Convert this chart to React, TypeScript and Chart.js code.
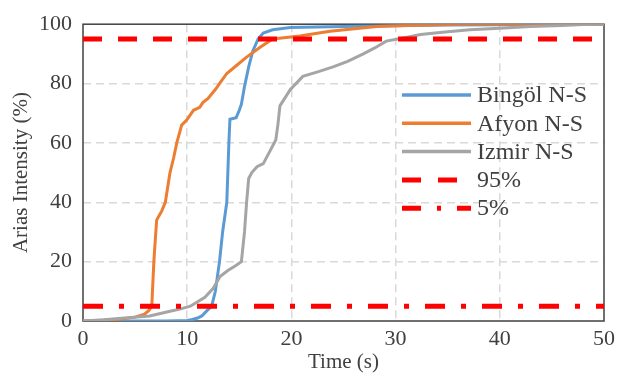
import React, { useEffect, useRef } from "react";
import { Chart, registerables } from "chart.js";

Chart.register(...registerables);

const xTicks = [0, 10, 20, 30, 40, 50];
const yTicks = [0, 20, 40, 60, 80, 100];

const bingolT = [0, 8, 10, 10.5, 11, 11.4, 11.9, 12.35, 12.7, 13.1, 13.4, 13.8, 14.0, 14.1, 14.7, 15.0, 15.2, 15.5, 15.9, 16.3, 16.8, 17.3, 18.2, 19.9, 26.3, 35, 50];
const bingolV = [0, 0, 0.2, 0.5, 1, 1.7, 3.5, 5, 10, 20, 30, 40, 60, 68, 68.5, 71, 73, 79, 85.6, 91, 95, 97, 98.1, 98.9, 99.3, 99.7, 100];

const afyonT = [0, 1.5, 3, 4, 5, 5.9, 6.3, 6.6, 6.8, 6.95, 7.07, 7.3, 7.55, 7.9, 8.35, 8.7, 9.0, 9.47, 9.95, 10.6, 11.2, 11.5, 12.0, 12.7, 13.2, 13.8, 14.7, 15.7, 17.0, 18.2, 20.8, 23.7, 28.2, 31, 36.5, 50];
const afyonV = [0, 0.2, 0.5, 0.8, 1.3, 2.3, 3.5, 5, 20, 28, 34, 35.5, 37, 40, 50, 55, 60, 66, 67.7, 71, 72, 73.6, 75, 78, 80.5, 83.4, 86, 88.9, 92.2, 95, 96, 97.6, 99.2, 99.6, 100, 100];

const izmirT = [0, 2, 4, 6.4, 8.35, 9.3, 10.3, 11, 11.7, 12.5, 13.15, 13.9, 14.6, 15.2, 15.5, 15.7, 15.9, 16.2, 16.7, 17.3, 17.9, 18.5, 18.7, 18.9, 19.9, 21.1, 22.6, 24, 25.4, 26.9, 28, 29.1, 31, 32.4, 34.5, 37.1, 40, 42.9, 46, 48, 50];
const izmirV = [0, 0.4, 1, 1.7, 3.3, 4, 5, 6.5, 8, 11, 15, 17, 18.5, 20, 30, 40, 48, 50, 52, 53, 57, 61, 66, 72.5, 78, 82.4, 84, 85.6, 87.5, 90, 92, 94.3, 95.5, 96.5, 97.3, 98.1, 98.6, 99.2, 99.6, 99.9, 100];

const level95 = [95, 95];
const level5 = [5, 5];
const levelT = [0, 50];

const legendLabels = ["Bingöl N-S", "Afyon N-S", "Izmir N-S", "95%", "5%"];

const BLUE = "#5B9BD5";
const ORANGE = "#ED7D31";
const GRAY = "#A5A5A5";
const RED = "#FF0000";
const TEXT = "#404040";
const FONT = "'Liberation Serif', 'Times New Roman', serif";

const pts = (t: number[], v: number[]) => t.map((x, i) => ({ x, y: v[i] }));

const framePlugin = {
  id: "frame",
  beforeDatasetsDraw(chart: any) {
    const { ctx, chartArea: a } = chart;
    ctx.save();
    ctx.strokeStyle = "#404040";
    ctx.lineWidth = 1.5;
    ctx.strokeRect(a.left, a.top, a.right - a.left, a.bottom - a.top);
    ctx.restore();
  },
};

const legendPlugin = {
  id: "insideLegend",
  afterDraw(chart: any) {
    const { ctx } = chart;
    const styles = [
      { color: BLUE, width: 3.5, dash: [] as number[] },
      { color: ORANGE, width: 3.5, dash: [] as number[] },
      { color: GRAY, width: 3.5, dash: [] as number[] },
      { color: RED, width: 5, dash: [19, 17] },
      { color: RED, width: 5, dash: [19, 16, 4, 16] },
    ];
    const x0 = 402;
    const x1 = 471;
    const tx = 477;
    const y0 = 95;
    const dy = 28.3;
    ctx.save();
    legendLabels.forEach((label, i) => {
      const y = y0 + i * dy;
      const s = styles[i];
      ctx.beginPath();
      ctx.setLineDash(s.dash);
      ctx.lineCap = "butt";
      ctx.strokeStyle = s.color;
      ctx.lineWidth = s.width;
      ctx.moveTo(x0, y);
      ctx.lineTo(x1, y);
      ctx.stroke();
      ctx.setLineDash([]);
      ctx.fillStyle = TEXT;
      ctx.font = `24px ${FONT}`;
      ctx.textBaseline = "middle";
      ctx.textAlign = "left";
      ctx.fillText(label, tx, y + 1);
    });
    ctx.restore();
  },
};

export default function App() {
  const ref = useRef<HTMLCanvasElement | null>(null);
  useEffect(() => {
    if (!ref.current) return;
    const gridColor = (c: any) => {
      const v = c.tick ? c.tick.value : 0;
      return v === 0 || v === 50 || v === 100 ? "rgba(0,0,0,0)" : "#D9D9D9";
    };
    const chart = new Chart(ref.current, {
      type: "line",
      data: {
        datasets: [
          { label: "Bingöl N-S", data: pts(bingolT, bingolV), borderColor: BLUE, borderWidth: 3, pointRadius: 0, tension: 0, order: 4 },
          { label: "Afyon N-S", data: pts(afyonT, afyonV), borderColor: ORANGE, borderWidth: 3, pointRadius: 0, tension: 0, order: 3 },
          { label: "Izmir N-S", data: pts(izmirT, izmirV), borderColor: GRAY, borderWidth: 3, pointRadius: 0, tension: 0, order: 2 },
          { label: "95%", data: pts(levelT, level95), borderColor: RED, borderWidth: 5, borderDash: [19, 16], borderCapStyle: "butt", pointRadius: 0, order: 1 },
          { label: "5%", data: pts(levelT, level5), borderColor: RED, borderWidth: 5, borderDash: [20, 16, 5, 16], borderCapStyle: "butt", pointRadius: 0, order: 0 },
        ],
      },
      options: {
        responsive: false,
        animation: false,
        devicePixelRatio: 1,
        layout: { padding: { top: 17, right: 19, left: 0, bottom: 0 } },
        plugins: { legend: { display: false }, tooltip: { enabled: false } },
        scales: {
          x: {
            type: "linear",
            min: 0,
            max: 50,
            afterBuildTicks: (s: any) => { s.ticks = xTicks.map((v) => ({ value: v })); },
            afterFit: (s: any) => { s.height = 55; },
            ticks: { color: TEXT, font: { family: FONT, size: 22 }, padding: 5, maxRotation: 0 },
            grid: { color: gridColor, lineWidth: 1.5, drawTicks: false },
            border: { display: false, dash: [8, 5] },
            title: { display: true, text: "Time (s)", color: TEXT, font: { family: FONT, size: 21 }, padding: { top: 0, bottom: 1 } },
          },
          y: {
            type: "linear",
            min: 0,
            max: 100,
            afterBuildTicks: (s: any) => { s.ticks = yTicks.map((v) => ({ value: v })); },
            afterFit: (s: any) => { s.width = 83; },
            ticks: { color: TEXT, font: { family: FONT, size: 22 }, padding: 11 },
            grid: { color: gridColor, lineWidth: 1.5, drawTicks: false },
            border: { display: false, dash: [8, 5] },
            title: { display: true, text: "Arias Intensity (%)", color: TEXT, font: { family: FONT, size: 21 }, padding: { top: 9, bottom: 0 } },
          },
        },
      },
      plugins: [framePlugin, legendPlugin],
    } as any);
    return () => chart.destroy();
  }, []);
  return (
    <div style={{ position: "fixed", left: 0, top: 0, width: 623, height: 376, background: "#fff" }}>
      <canvas ref={ref} width={623} height={376} />
    </div>
  );
}
